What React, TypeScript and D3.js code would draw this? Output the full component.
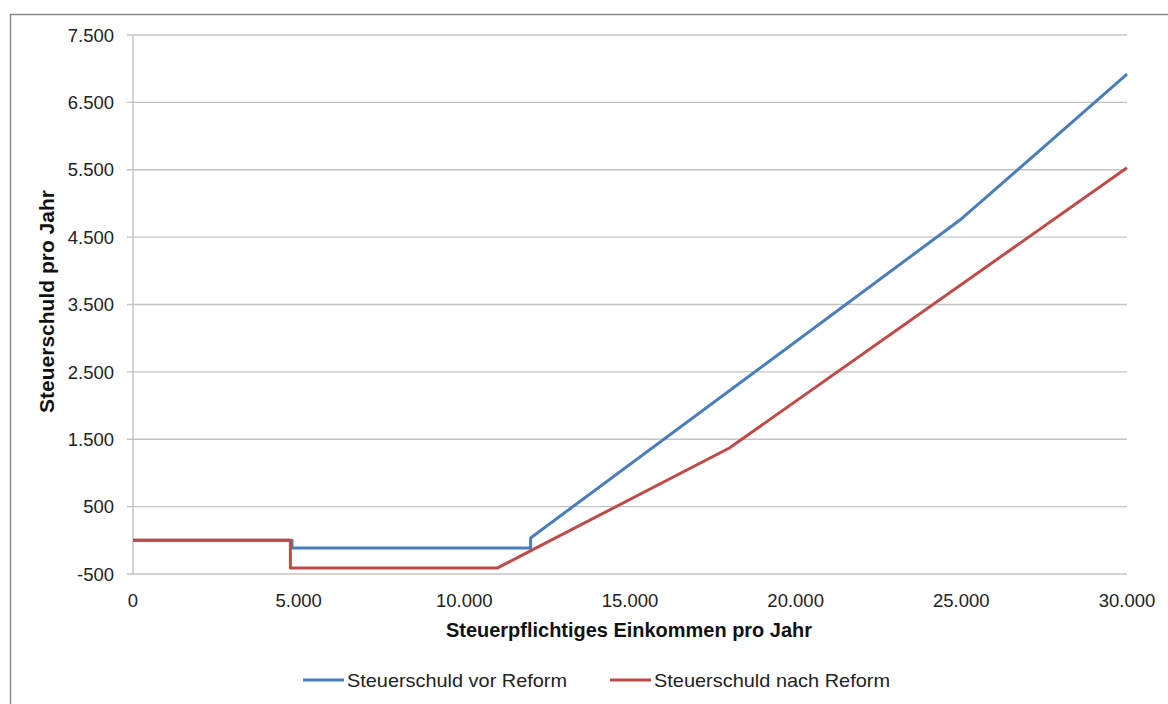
import React from "react";
import * as d3 from "d3";

// Tax owed per year, before and after the reform (income in €, tax in €)
const incomeBefore = [0, 4800, 4800, 12000, 12000, 25000, 30000];
const taxBefore = [0, 0, -115, -115, 35, 4770, 6920];
const incomeAfter = [0, 4750, 4750, 11000, 18000, 30000];
const taxAfter = [0, 0, -410, -410, 1370, 5530];

const yTicks = [-500, 500, 1500, 2500, 3500, 4500, 5500, 6500, 7500];
const xTicks = [0, 5000, 10000, 15000, 20000, 25000, 30000];

const seriesNames = ["Steuerschuld vor Reform", "Steuerschuld nach Reform"];
const seriesColors = ["#4a7ebb", "#be4b48"];

// German number format: "." as thousands separator, plain hyphen for negatives
const fmt = (v: number) =>
  (v < 0 ? "-" : "") + d3.format(",")(Math.abs(v)).replace(/,/g, ".");

export default function App() {
  const W = 1168, H = 704;
  const left = 133, right = 1127, top = 35, bottom = 574;
  const x = d3.scaleLinear().domain([0, 30000]).range([left, right]);
  const y = d3.scaleLinear().domain([-500, 7500]).range([bottom, top]);

  const line = d3
    .line<[number, number]>()
    .x((d) => x(d[0]))
    .y((d) => y(d[1]));

  const before = incomeBefore.map((v, i) => [v, taxBefore[i]] as [number, number]);
  const after = incomeAfter.map((v, i) => [v, taxAfter[i]] as [number, number]);

  const font = "'Liberation Sans', Arial, sans-serif";
  const legendWidths = [220, 236];

  return (
    <svg
      width={W}
      height={H}
      style={{ position: "absolute", left: 0, top: 0, background: "#fff" }}
      fontFamily={font}
    >
      {/* chart frame */}
      <path d={`M10.5,${H} V14.5 H${W}`} fill="none" stroke="#8a8a8a" strokeWidth={1.5} />

      {/* horizontal gridlines + y ticks */}
      {yTicks.map((t) => (
        <g key={t}>
          <line x1={left - 6} x2={right} y1={y(t)} y2={y(t)} stroke="#c4c4c4" strokeWidth={1.3} />
          <text
            x={left - 19}
            y={y(t)}
            dy="0.36em"
            textAnchor="end"
            fontSize={18.5}
            fill="#222"
          >
            {fmt(t)}
          </text>
        </g>
      ))}
      {/* y axis line */}
      <line x1={left} x2={left} y1={top} y2={bottom} stroke="#bdbdbd" strokeWidth={1.3} />

      {/* x tick labels */}
      {xTicks.map((t) => (
        <text key={t} x={x(t)} y={607} textAnchor="middle" fontSize={18.5} fill="#222">
          {fmt(t)}
        </text>
      ))}

      {/* series */}
      <path d={line(before) ?? ""} fill="none" stroke={seriesColors[0]} strokeWidth={3} strokeLinejoin="round" />
      <path d={line(after) ?? ""} fill="none" stroke={seriesColors[1]} strokeWidth={3} strokeLinejoin="round" />

      {/* axis titles */}
      <text
        x={446}
        y={637}
        fontSize={19.5}
        fontWeight="bold"
        fill="#111"
        textLength={366}
        lengthAdjust="spacingAndGlyphs"
      >
        Steuerpflichtiges Einkommen pro Jahr
      </text>
      <text
        transform={`translate(54,413) rotate(-90)`}
        fontSize={19.5}
        fontWeight="bold"
        fill="#111"
        textLength={223}
        lengthAdjust="spacingAndGlyphs"
      >
        Steuerschuld pro Jahr
      </text>

      {/* legend */}
      {[303, 610].map((lx, i) => (
        <g key={i}>
          <line x1={lx} x2={lx + 41} y1={680} y2={680} stroke={seriesColors[i]} strokeWidth={3} />
          <text
            x={lx + 44}
            y={687}
            fontSize={19}
            fill="#222"
            textLength={legendWidths[i]}
            lengthAdjust="spacingAndGlyphs"
          >
            {seriesNames[i]}
          </text>
        </g>
      ))}
    </svg>
  );
}
